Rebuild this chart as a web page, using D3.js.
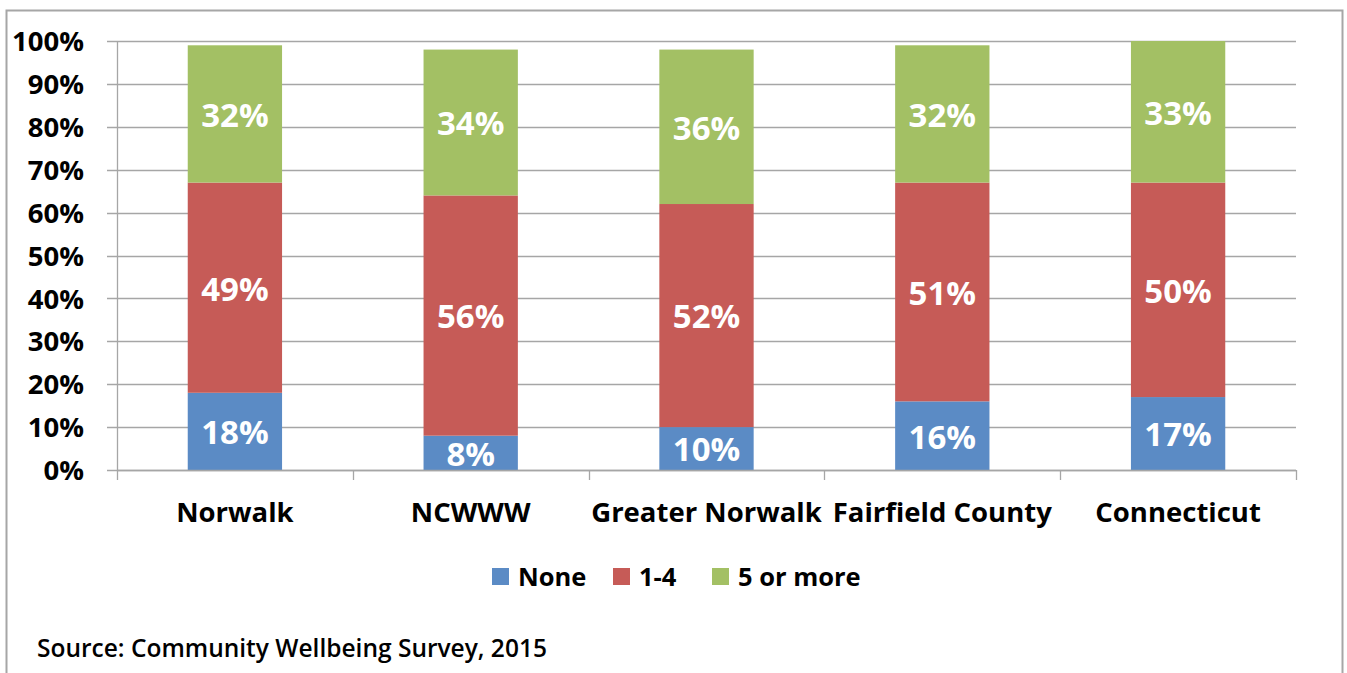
<!DOCTYPE html>
<html>
<head>
<meta charset="utf-8">
<script src="https://cdn.jsdelivr.net/npm/d3@7"></script>
<style>
  html, body { margin: 0; padding: 0; background: #fff; }
  svg { display: block; font-family: "Open Sans", sans-serif; }
</style>
</head>
<body>
<svg id="chart" width="1347" height="673"></svg>
<script>
// ---- data ----
const categories = ["Norwalk", "NCWWW", "Greater Norwalk", "Fairfield County", "Connecticut"];
const seriesNames = ["None", "1-4", "5 or more"];
const noneValues = [18, 8, 10, 16, 17];
const oneToFourValues = [49, 56, 52, 51, 50];
const fiveOrMoreValues = [32, 34, 36, 32, 33];
const yTickValues = [0, 10, 20, 30, 40, 50, 60, 70, 80, 90, 100];
const sourceText = "Source: Community Wellbeing Survey, 2015";

const colors = ["#5b8bc5", "#c65b57", "#a3c064"];
const FONT = "'Open Sans', sans-serif";

const rows = categories.map((c, i) => ({
  category: c,
  "None": noneValues[i],
  "1-4": oneToFourValues[i],
  "5 or more": fiveOrMoreValues[i]
}));

const svg = d3.select("#chart");

// outer frame
svg.append("rect")
  .attr("x", 6.5).attr("y", 10.5)
  .attr("width", 1336).attr("height", 700)
  .attr("fill", "#fff")
  .attr("stroke", "#a6a6a6").attr("stroke-width", 2);

const plot = { left: 117, right: 1296, top: 41, bottom: 470 };

const x = d3.scaleBand()
  .domain(categories)
  .range([plot.left, plot.right])
  .paddingInner(0.6).paddingOuter(0.3);

const y = d3.scaleLinear().domain([0, 100]).range([plot.bottom, plot.top]);

// gridlines
svg.append("g")
  .selectAll("line")
  .data(yTickValues)
  .join("line")
  .attr("x1", plot.left - 10).attr("x2", plot.right)
  .attr("y1", d => Math.round(y(d)) + 0.5).attr("y2", d => Math.round(y(d)) + 0.5)
  .attr("stroke", "#a6a6a6").attr("stroke-width", 1.3);

// y axis labels
const yAxis = d3.axisLeft(y).tickValues(yTickValues).tickFormat(d => d + "%").tickSize(0).tickPadding(33);
const gy = svg.append("g").attr("transform", `translate(${plot.left},0)`).call(yAxis);
gy.select(".domain").remove();
gy.selectAll("text")
  .attr("font-family", FONT)
  .attr("font-weight", "bold")
  .attr("font-size", 27.5)
  .attr("dy", "0.35em")
  .attr("fill", "#000");

// stacked bars
const stack = d3.stack().keys(seriesNames);
const stacked = stack(rows);

const layers = svg.append("g").selectAll("g")
  .data(stacked)
  .join("g")
  .attr("fill", (d, i) => colors[i]);

layers.selectAll("rect")
  .data(d => d)
  .join("rect")
  .attr("x", d => x(d.data.category))
  .attr("width", x.bandwidth())
  .attr("y", d => y(d[1]))
  .attr("height", d => y(d[0]) - y(d[1]));

// data labels
const labels = svg.append("g");
stacked.forEach(layer => {
  labels.selectAll(null)
    .data(layer)
    .join("text")
    .attr("x", d => x(d.data.category) + x.bandwidth() / 2)
    .attr("y", d => (y(d[0]) + y(d[1])) / 2 + 1)
    .attr("dy", "0.36em")
    .attr("text-anchor", "middle")
    .attr("font-family", FONT)
    .attr("font-weight", "bold")
    .attr("font-size", 33)
    .attr("fill", "#fff")
    .text(d => (d[1] - d[0]) + "%");
});

// x axis (baseline + category separators)
const xAxisG = svg.append("g");
xAxisG.append("line")
  .attr("x1", plot.left).attr("x2", plot.right)
  .attr("y1", plot.bottom + 0.5).attr("y2", plot.bottom + 0.5)
  .attr("stroke", "#a6a6a6").attr("stroke-width", 1.3);
// y axis line
xAxisG.append("line")
  .attr("x1", plot.left + 0.5).attr("x2", plot.left + 0.5)
  .attr("y1", plot.top).attr("y2", plot.bottom + 10)
  .attr("stroke", "#a6a6a6").attr("stroke-width", 1.3);
const step = x.step();
const boundaries = categories.map((c, i) => x(c) - x.paddingInner() * step / 2).concat([plot.right]);
xAxisG.selectAll(".sep")
  .data(boundaries.slice(1))
  .join("line")
  .attr("x1", d => Math.round(d) + 0.5).attr("x2", d => Math.round(d) + 0.5)
  .attr("y1", plot.bottom).attr("y2", plot.bottom + 10)
  .attr("stroke", "#a6a6a6").attr("stroke-width", 1.3);

xAxisG.selectAll(".cat")
  .data(categories)
  .join("text")
  .attr("x", d => x(d) + x.bandwidth() / 2)
  .attr("y", 522)
  .attr("text-anchor", "middle")
  .attr("font-family", FONT)
  .attr("font-weight", "bold")
  .attr("font-size", 27.5)
  .attr("fill", "#000")
  .text(d => d);

// legend
const legendX = [492, 613, 712];
const legend = svg.append("g");
seriesNames.forEach((name, i) => {
  legend.append("rect")
    .attr("x", legendX[i]).attr("y", 568)
    .attr("width", 17).attr("height", 17)
    .attr("fill", colors[i]);
  legend.append("text")
    .attr("x", legendX[i] + 26).attr("y", 586)
    .attr("font-family", FONT)
    .attr("font-weight", "bold")
    .attr("font-size", 25.5)
    .attr("fill", "#000")
    .text(name);
});

// source
svg.append("text")
  .attr("x", 37).attr("y", 657)
  .attr("font-family", FONT)
  .attr("font-weight", 600)
  .attr("font-size", 24.5)
  .attr("fill", "#000")
  .text(sourceText);
</script>
</body>
</html>
